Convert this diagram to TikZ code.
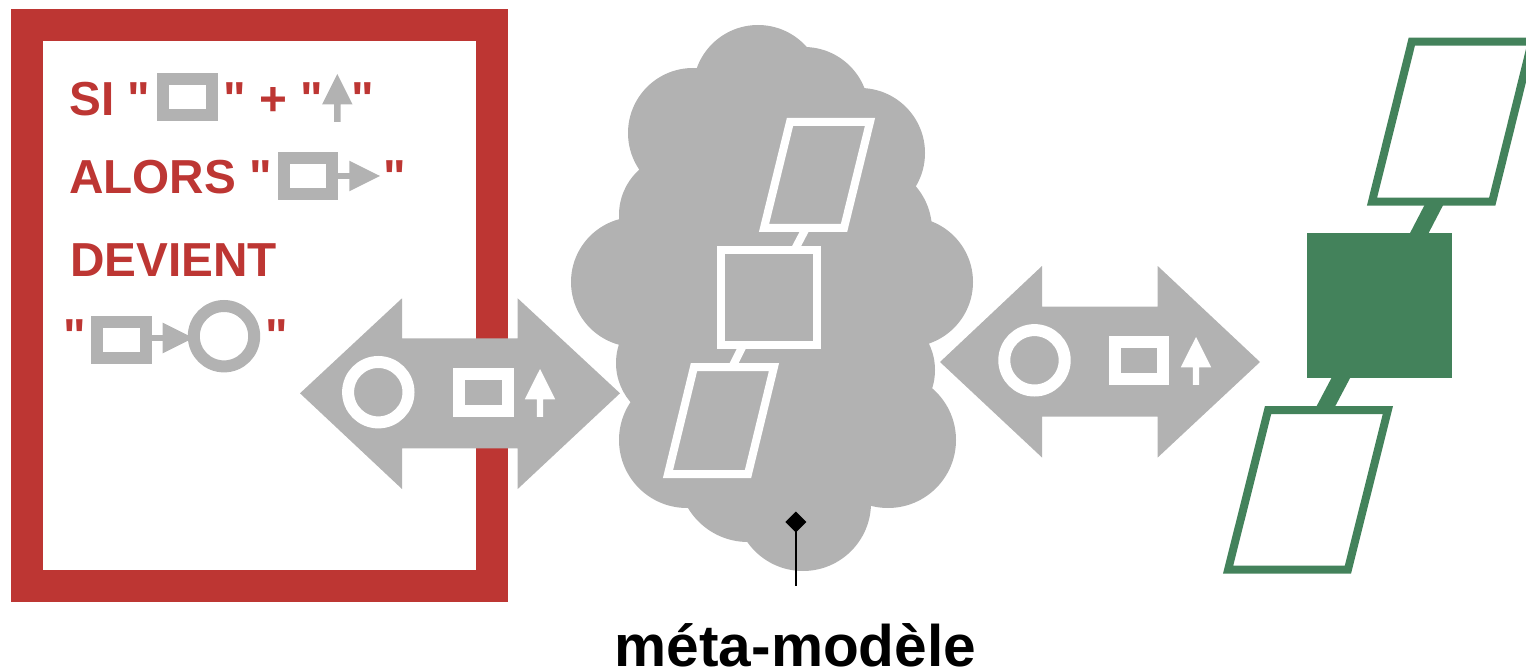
\documentclass[tikz,border=0pt]{standalone}
\usepackage{fontspec}
\newfontfamily\labelFont{Liberation Sans}
\usetikzlibrary{arrows.meta,calc}

\definecolor{ruleRed}{RGB}{189,54,51}
\definecolor{modelGreen}{RGB}{67,130,91}
\definecolor{metaGray}{RGB}{178,178,178}

\tikzset{
	ruleText/.style={anchor=base west, inner sep=0pt, text=ruleRed, font=\fontsize{47.7}{50}\labelFont\bfseries},
	metaText/.style={anchor=base, inner sep=0pt, font=\fontsize{58.6}{60}\labelFont\bfseries},
	iconLine/.style={line width=12pt, miter limit=10},
	paraLine/.style={line width=8pt, line join=miter},
}

% small glyphs of the rule: #1 = top left or tip, #2 = colour
\newcommand{\iconBox}[2]{\draw[iconLine,draw=#2] ([shift={(6,6)}]#1) rectangle ([shift={(54.4,42.2)}]#1);}
\newcommand{\iconUp}[2]{\fill[#2] (#1) -- ++(15.2,30.3) -- ++(-12,0) -- ++(0,17.5) -- ++(-6.4,0) -- ++(0,-17.5) -- ++(-12,0) -- cycle;}
\newcommand{\iconRight}[2]{\fill[#2] ([shift={(-11.6,-3)}]#1) rectangle ([shift={(0.5,3)}]#1);
	\fill[#2] ([shift={(0,-15.3)}]#1) -- ([shift={(30.7,0)}]#1) -- ([shift={(0,15.3)}]#1) -- cycle;}

\begin{document}
\begin{tikzpicture}[x=1pt, y=-1pt, line join=miter]
		
		\useasboundingbox (0,0) rectangle (1526,671);
		\clip (0,0) rectangle (1526,671);
		
		% Rule frame
		\draw[ruleRed, line width=32pt] (27,25) rectangle (492,586);
		
		% Rule text
		\node[ruleText] (siOpen) at (69,115.5) {SI "};
		\iconBox{157.3,73.3}{metaGray}
		\node[ruleText] (siPlus) at (223,115.5) {" + "};
		\iconUp{337.3,74}{metaGray}
		\node[ruleText] (siClose) at (351,115.5) {"};
		
		\node[ruleText] (alorsOpen) at (69,194) {ALORS "};
		\iconBox{278,152.3}{metaGray}
		\iconRight{349.3,176}{metaGray}
		\node[ruleText] (alorsClose) at (383,194) {"};
		
		\node[ruleText] (devientWord) at (70,276.7) {DEVIENT};
		
		\node[ruleText] (devientOpen) at (63,352.5) {"};
		\iconBox{91.3,316}{metaGray}
		\iconRight{162.7,338}{metaGray}
		\draw[iconLine, metaGray] (224,336.2) circle (30.2pt);
		\node[ruleText] (devientClose) at (265,352.5) {"};
		
		% Left double arrow
		\fill[metaGray] (300,393.3) -- (402,298.3) -- (402,338.3) -- (517.7,338.3) -- (517.7,298.3) -- (620,393.3)
			-- (517.7,489) -- (517.7,448.3) -- (402,448.3) -- (402,489) -- cycle;
		\draw[iconLine, white] (378.3,392.2) circle (30.2pt);
		\iconBox{453.3,368.3}{white}
		\iconUp{540,369}{white}
		
		% Meta-model cloud
		\fill[metaGray] (758,90) circle (65pt) (804,112) circle (65pt) (860,153) circle (65pt)
			(865,230) circle (67pt) (908,282) circle (65pt) (875,370) circle (60pt)
			(888,440) circle (68pt) (803,503) circle (68pt) (748,472) circle (70pt)
			(687,440) circle (68pt) (676,363) circle (60pt) (636,282) circle (65pt)
			(680,215) circle (61pt) (693,133) circle (65pt);
		\fill[metaGray] (760,85) -- (860,153) -- (908,282) -- (888,440) -- (801,502) -- (687,440) -- (636,282) -- (693,133) -- cycle;
		
		% Meta-model graph
		\coordinate (metaTopFoot) at (806.6,227);
		\coordinate (metaTopHead) at (794,251);
		\coordinate (metaLowFoot) at (743.7,344);
		\coordinate (metaLowHead) at (731.3,368.7);
		\draw[white, line width=8pt] (metaTopFoot) -- (metaTopHead);
		\draw[white, line width=8pt] (metaLowFoot) -- (metaLowHead);
		\draw[paraLine, white, fill=metaGray] (790,122) -- (870,122) -- (844,228) -- (764,228) -- cycle;
		\draw[paraLine, white, fill=metaGray] (721,250) rectangle (817,345.3);
		\draw[paraLine, white, fill=metaGray] (694,367) -- (774,367) -- (748,474) -- (668,474) -- cycle;
		
		% Label of the cloud
		\node[metaText] (metaLabel) at (795.5,666.5) {méta-modèle};
		\coordinate (metaPin) at (795.8,511.5);
		\coordinate (metaEnd) at (795.8,586);
		\draw[line width=2pt, {Diamond[length=21pt,width=21pt]}-] (metaPin) -- (metaEnd);
		
		% Right double arrow
		\fill[metaGray] (940,362) -- (1042,266) -- (1042,306.7) -- (1157.7,306.7) -- (1157.7,266) -- (1260,362)
			-- (1157.7,457.5) -- (1157.7,416.7) -- (1042,416.7) -- (1042,457.5) -- cycle;
		\draw[iconLine, white] (1034.5,360.3) circle (30.2pt);
		\iconBox{1109,336.3}{white}
		\iconUp{1196,337}{white}
		
		% Model
		\coordinate (modelTopFoot) at (1437.2,198.6);
		\coordinate (modelTopHead) at (1415.8,239.8);
		\coordinate (modelLowFoot) at (1344.7,370.6);
		\coordinate (modelLowHead) at (1322.3,413);
		\draw[modelGreen, line width=16.5pt] (modelTopFoot) -- (modelTopHead);
		\draw[modelGreen, line width=16.5pt] (modelLowFoot) -- (modelLowHead);
		\draw[paraLine, modelGreen, fill=white] (1411.8,41.7) -- (1531.9,41.7) -- (1492.2,201.7) -- (1372,201.7) -- cycle;
		\fill[modelGreen] (1307,232.7) rectangle (1452,377.7);
		\draw[paraLine, modelGreen, fill=white] (1268.1,410) -- (1387.9,410) -- (1347.9,569.7) -- (1228.1,569.7) -- cycle;
		
	\end{tikzpicture}
\end{document}
